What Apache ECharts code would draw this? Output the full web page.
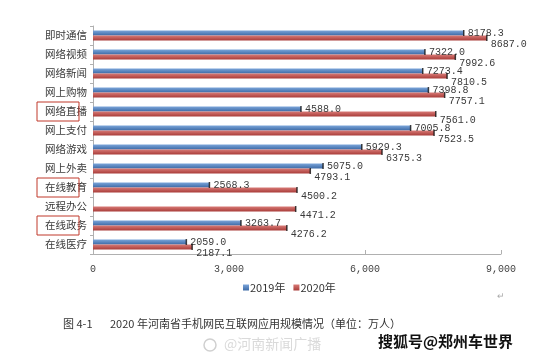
<!DOCTYPE html>
<html><head><meta charset="utf-8">
<script src="https://cdn.jsdelivr.net/npm/echarts@6/dist/echarts.min.js"></script>
<style>html,body{margin:0;padding:0;background:#fff}#c{width:550px;height:357px}</style>
</head><body><div id="c"></div>
<script>
const categories = ['即时通信','网络视频','网络新闻','网上购物','网络直播','网上支付','网络游戏','网上外卖','在线教育','远程办公','在线政务','在线医疗'];
const values2019 = [8178.3, 7322.0, 7273.4, 7398.8, 4588.0, 7005.8, 5929.3, 5075.0, 2568.3, null, 3263.7, 2059.0];
const values2020 = [8687.0, 7992.6, 7810.5, 7757.1, 7561.0, 7523.5, 6375.3, 4793.1, 4500.2, 4471.2, 4276.2, 2187.1];
const xTicks = [0, 3000, 6000, 9000];
const seriesNames = ['2019年', '2020年'];
const highlighted = ['网络直播', '在线教育', '在线政务'];
const caption = ['图 4-1', '2020 年河南省手机网民互联网应用规模情况（单位：万人）'];

const CJK = '"Noto Sans CJK SC", sans-serif';
const MONO = '"Liberation Mono", monospace';
const chart = echarts.init(document.getElementById('c'), null, {renderer: 'canvas'});

function grad(top, bottom) {
  return new echarts.graphic.LinearGradient(0, 0, 0, 1, [{offset: 0, color: top}, {offset: 1, color: bottom}]);
}
function barLabel(offY) {
  return {show: true, position: 'right', distance: 4, offset: [0, offY], color: '#3a3a3a', fontFamily: MONO, fontSize: 10,
    formatter: p => p.value == null ? '' : Number(p.value).toFixed(1)};
}
function tickSeries(name, vals, offY) {
  return {name: name, type: 'scatter', symbol: 'rect', symbolSize: [1.5, 6], symbolOffset: [0, offY],
    itemStyle: {color: '#111'}, silent: true, z: 5,
    data: vals.map((v, i) => v == null ? null : [v, categories[i]]).filter(d => d)};
}

chart.setOption({
  animation: false,
  backgroundColor: '#fff',
  grid: {left: 93, right: 49, top: 26, bottom: 103},
  legend: {data: seriesNames, left: 238, top: 277, icon: 'rect', itemWidth: 6, itemHeight: 6, itemGap: 8,
    textStyle: {fontFamily: CJK, fontSize: 11, color: '#333', padding: [0, 0, 0, -4]}},
  xAxis: {type: 'value', min: xTicks[0], max: xTicks[xTicks.length - 1], interval: xTicks[1] - xTicks[0],
    axisLine: {show: true, lineStyle: {color: '#b0b0b0'}},
    axisTick: {show: true, inside: true, length: 4, lineStyle: {color: '#b0b0b0'}},
    splitLine: {show: false},
    axisLabel: {margin: 10, color: '#444', fontFamily: MONO, fontSize: 10,
      formatter: v => v === 0 ? '0' : v.toLocaleString('en-US')}},
  yAxis: {type: 'category', data: categories, inverse: true,
    axisLine: {show: true, lineStyle: {color: '#b0b0b0'}},
    axisTick: {show: true, length: 3, lineStyle: {color: '#b0b0b0'}},
    axisLabel: {margin: 6, color: '#3a3a3a', fontFamily: CJK, fontSize: 10.5}},
  series: [
    {name: seriesNames[0], type: 'bar', data: values2019, barWidth: 5, barGap: '0%',
      itemStyle: {color: grad('#7ba5da', '#3d6aa6')}, label: barLabel(0)},
    {name: seriesNames[1], type: 'bar', data: values2020, barWidth: 5, barGap: '0%',
      itemStyle: {color: grad('#d87a76', '#a93c39')}, label: barLabel(6.5)},
    tickSeries('t2019', values2019, -2.5),
    tickSeries('t2020', values2020, 2.5)
  ],
  color: ['#4a7ebb', '#be4b48']
});

const boxes = highlighted.map(name => {
  const y = chart.convertToPixel({yAxisIndex: 0}, name);
  return {type: 'rect', shape: {x: 37, y: y - 9.5, width: 42, height: 19},
    style: {fill: null, stroke: '#c0392b', lineWidth: 1}, z: 100};
});
chart.setOption({graphic: boxes.concat([
  {type: 'text', left: 63, top: 318, style: {text: caption[0], font: '11px ' + CJK, fill: '#333'}},
  {type: 'text', left: 110, top: 318, style: {text: caption[1], font: '11px ' + CJK, fill: '#333'}},
  {type: 'text', left: 497, top: 291, style: {text: '↵', font: '9px ' + CJK, fill: '#aaa'}},
  {type: 'circle', shape: {cx: 210, cy: 345, r: 6}, style: {fill: null, stroke: '#d0d0d0', lineWidth: 1.5}},
  {type: 'text', left: 224, top: 337, style: {text: '@河南新闻广播', font: '14px ' + CJK, fill: '#dadada'}},
  {type: 'text', left: 377, top: 333, style: {text: '搜狐号@郑州车世界', font: 'bold 15px ' + CJK, fill: '#111', stroke: '#fff', lineWidth: 2}}
])});
</script></body></html>
